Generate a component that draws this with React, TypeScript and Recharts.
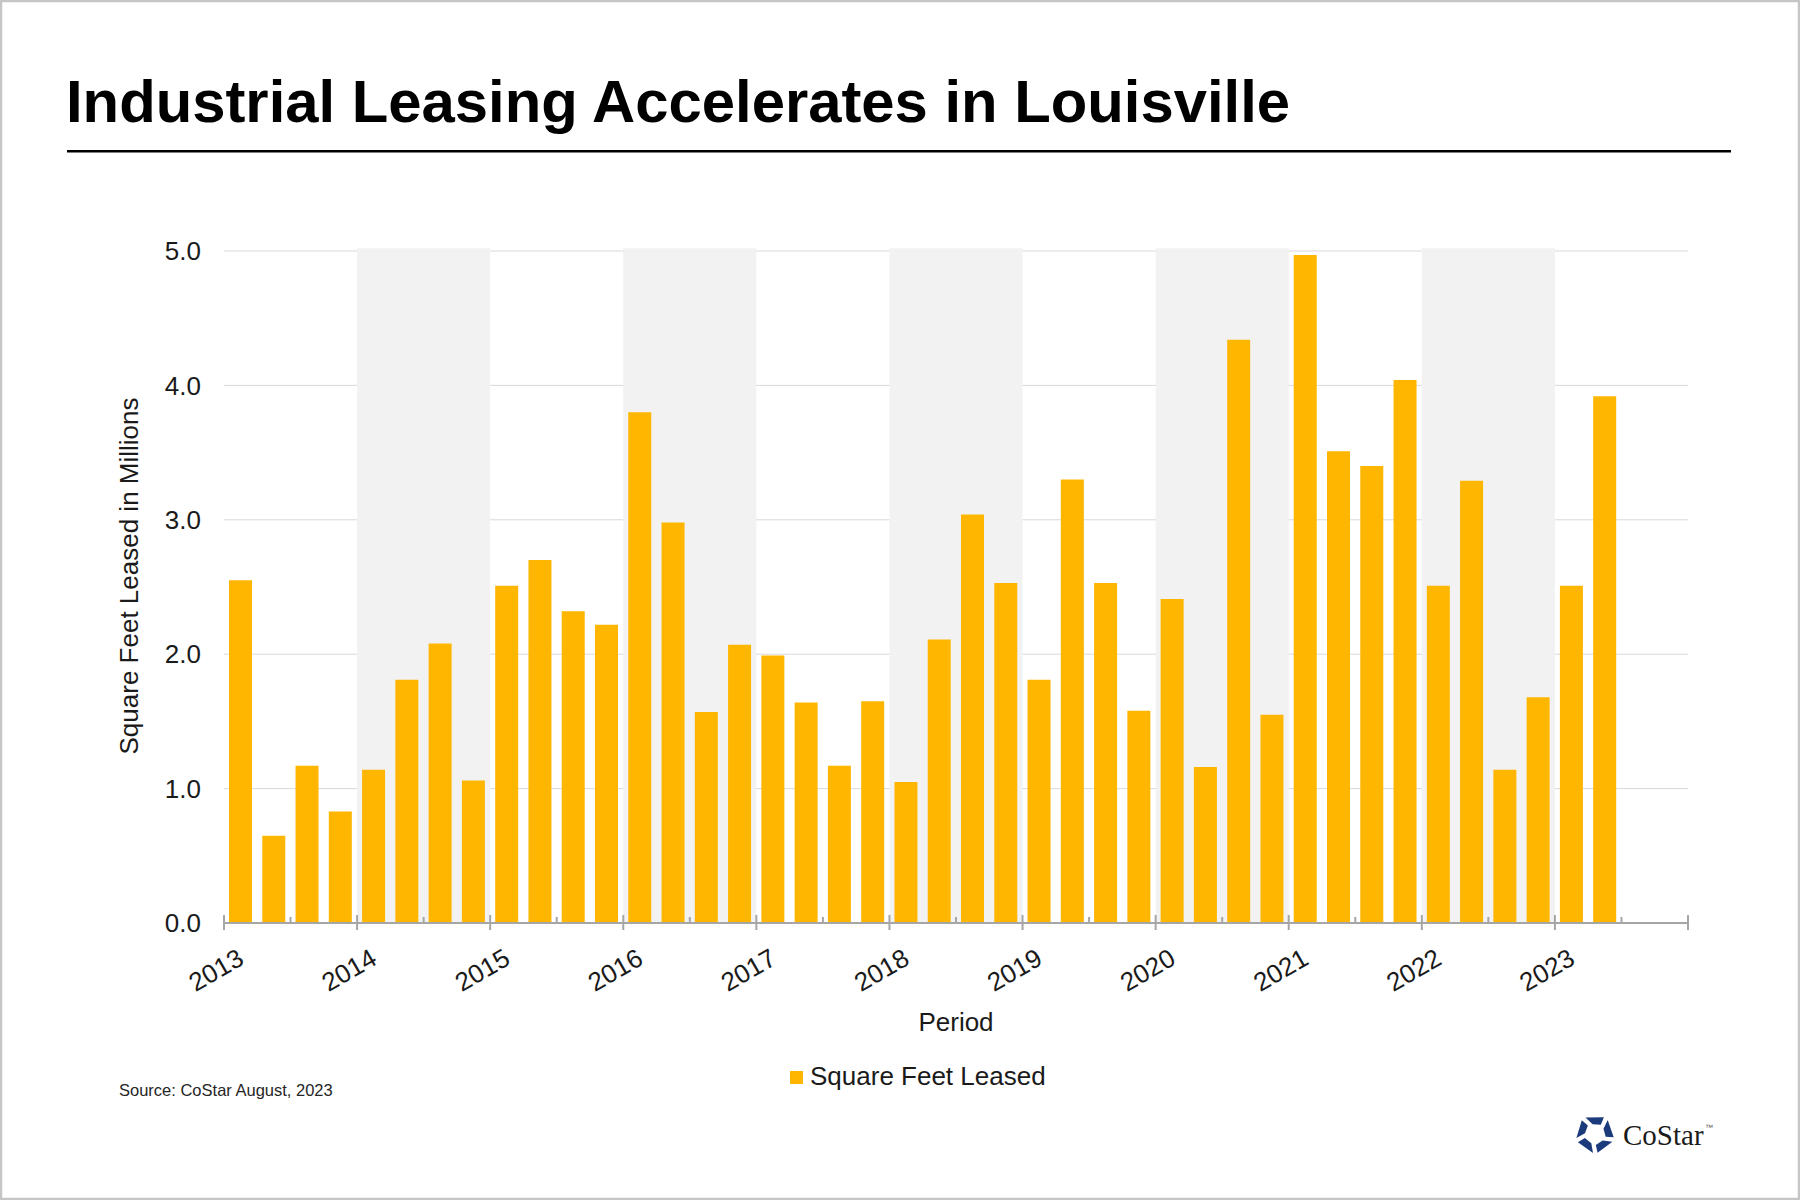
import { BarChart, Bar, XAxis, YAxis, CartesianGrid, ReferenceArea } from 'recharts';

const FONT = '"Liberation Sans", Arial, sans-serif';
const BAR_COLOR = '#FFB600';
const TEXT_COLOR = '#1a1a1a';

// quarterly leasing, millions of sq ft, 2013 Q1 .. 2023 Q2
const years = ['2013', '2014', '2015', '2016', '2017', '2018', '2019', '2020', '2021', '2022', '2023'];
const quarterNames = ['Q1', 'Q2', 'Q3', 'Q4'];
const leased = [
  2.55, 0.65, 1.17, 0.83,
  1.14, 1.81, 2.08, 1.06,
  2.51, 2.70, 2.32, 2.22,
  3.80, 2.98, 1.57, 2.07,
  1.99, 1.64, 1.17, 1.65,
  1.05, 2.11, 3.04, 2.53,
  1.81, 3.30, 2.53, 1.58,
  2.41, 1.16, 4.34, 1.55,
  4.97, 3.51, 3.40, 4.04,
  2.51, 3.29, 1.14, 1.68,
  2.51, 3.92,
];
const shadedYears = ['2014', '2016', '2018', '2020', '2022'];
const yTicks = [0, 1, 2, 3, 4, 5];

const data = leased.map((v, i) => ({
  period: `${years[Math.floor(i / 4)]} ${quarterNames[i % 4]}`,
  pos: i + 0.5,
  value: v,
}));

const xMax = years.length * 4;
const xTicks = Array.from({ length: xMax / 2 + 1 }, (_, i) => i * 2);

const XTick = (props: any) => {
  const { x, y, payload } = props;
  const v = payload.value;
  const major = v % 4 === 0;
  const idx = v / 4;
  const lx = x - 8;
  const ly = y + 47;
  return (
    <g>
      <line x1={x} x2={x} y1={major ? y - 8 : y - 6} y2={major ? y + 7 : y} stroke="#a6a6a6" strokeWidth={2} />
      {major && idx < years.length && (
        <text
          x={lx}
          y={ly}
          transform={`rotate(-30, ${lx}, ${ly})`}
          textAnchor="middle"
          dominantBaseline="central"
          fontSize={26}
          fontFamily={FONT}
          fill={TEXT_COLOR}
        >
          {years[idx]}
        </text>
      )}
    </g>
  );
};

const YTitle = (props: any) => {
  const { viewBox } = props;
  const cx = viewBox.x + 129;
  const cy = viewBox.y + viewBox.height / 2 - 11;
  return (
    <text
      x={cx}
      y={cy}
      transform={`rotate(-90, ${cx}, ${cy})`}
      textAnchor="middle"
      dominantBaseline="central"
      fontSize={26}
      fontFamily={FONT}
      fill={TEXT_COLOR}
    >
      Square Feet Leased in Millions
    </text>
  );
};

const XTitle = (props: any) => {
  const { viewBox } = props;
  return (
    <text
      x={viewBox.x + viewBox.width / 2}
      y={viewBox.y + 108}
      textAnchor="middle"
      fontSize={26}
      fontFamily={FONT}
      fill={TEXT_COLOR}
    >
      Period
    </text>
  );
};

const polar = (cx: number, cy: number, r: number, deg: number) => {
  const a = (deg * Math.PI) / 180;
  return `${(cx + r * Math.cos(a)).toFixed(1)},${(cy + r * Math.sin(a)).toFixed(1)}`;
};

const LogoMark = ({ cx, cy }: { cx: number; cy: number }) => (
  <g fill="#1c3b7c">
    {[0, 1, 2, 3, 4].map((k) => {
      const a = -90 + 72 * k;
      const pts = [
        polar(cx, cy, 19, a - 30),
        polar(cx, cy, 19, a + 28),
        polar(cx, cy, 11, a + 32),
        polar(cx, cy, 10, a - 14),
      ].join(' ');
      return <polygon key={k} points={pts} />;
    })}
  </g>
);

const App = () => {
  return (
    <div style={{ position: 'absolute', left: 0, top: 0, width: 1800, height: 1200, background: '#fff' }}>
      <div style={{ position: 'absolute', left: 0, top: 0 }}>
        <BarChart width={1800} height={1200} data={data} margin={{ top: 251, right: 112, bottom: 0, left: 0 }}>
          {shadedYears.map((yr) => {
            const i = years.indexOf(yr);
            return (
              <ReferenceArea
                key={yr}
                x1={i * 4}
                x2={i * 4 + 4}
                y1={0}
                y2={5.02}
                ifOverflow="visible"
                fill="#f2f2f2"
                fillOpacity={1}
                stroke="none"
              />
            );
          })}
          <CartesianGrid vertical={false} stroke="#d9d9d9" />
          <XAxis
            type="number"
            dataKey="pos"
            domain={[0, xMax]}
            ticks={xTicks}
            interval={0}
            height={277}
            tickSize={0}
            tickMargin={0}
            tickLine={false}
            axisLine={{ stroke: '#a6a6a6', strokeWidth: 2 }}
            tick={<XTick />}
            label={<XTitle />}
          />
          <YAxis
            type="number"
            domain={[0, 5]}
            ticks={yTicks}
            interval={0}
            width={224}
            tickSize={0}
            tickMargin={23}
            axisLine={false}
            tickLine={false}
            tickFormatter={(v: number) => v.toFixed(1)}
            tick={{ fontSize: 26, fontFamily: FONT, fill: TEXT_COLOR }}
            label={<YTitle />}
          />
          <Bar dataKey="value" name="Square Feet Leased" fill={BAR_COLOR} barSize={23} isAnimationActive={false} />
        </BarChart>
      </div>
      <svg width={1800} height={1200} style={{ position: 'absolute', left: 0, top: 0, pointerEvents: 'none' }}>
        <text x={66} y={122} fontSize={59.8} fontWeight="bold" fontFamily={FONT} fill="#000">
          Industrial Leasing Accelerates in Louisville
        </text>
        <rect x={67} y={150} width={1664} height={2.5} fill="#000" />
        <text x={119} y={1096} fontSize={16.5} fontFamily={FONT} fill="#262626">
          Source: CoStar August, 2023
        </text>
        <rect x={790} y={1071} width={13} height={13} fill={BAR_COLOR} />
        <text x={810} y={1085} fontSize={26} fontFamily={FONT} fill={TEXT_COLOR}>
          Square Feet Leased
        </text>
        <LogoMark cx={1595} cy={1134} />
        <text x={1623} y={1145} fontSize={29} fontFamily='"Liberation Serif", "Times New Roman", serif' fill="#1a1a1a">
          CoStar
        </text>
        <text x={1705} y={1130} fontSize={8} fontFamily={FONT} fill="#555">
          ™
        </text>
        <rect x={1} y={1} width={1798} height={1198} fill="none" stroke="#c6c6c6" strokeWidth={2.5} />
      </svg>
    </div>
  );
};

export default App;
